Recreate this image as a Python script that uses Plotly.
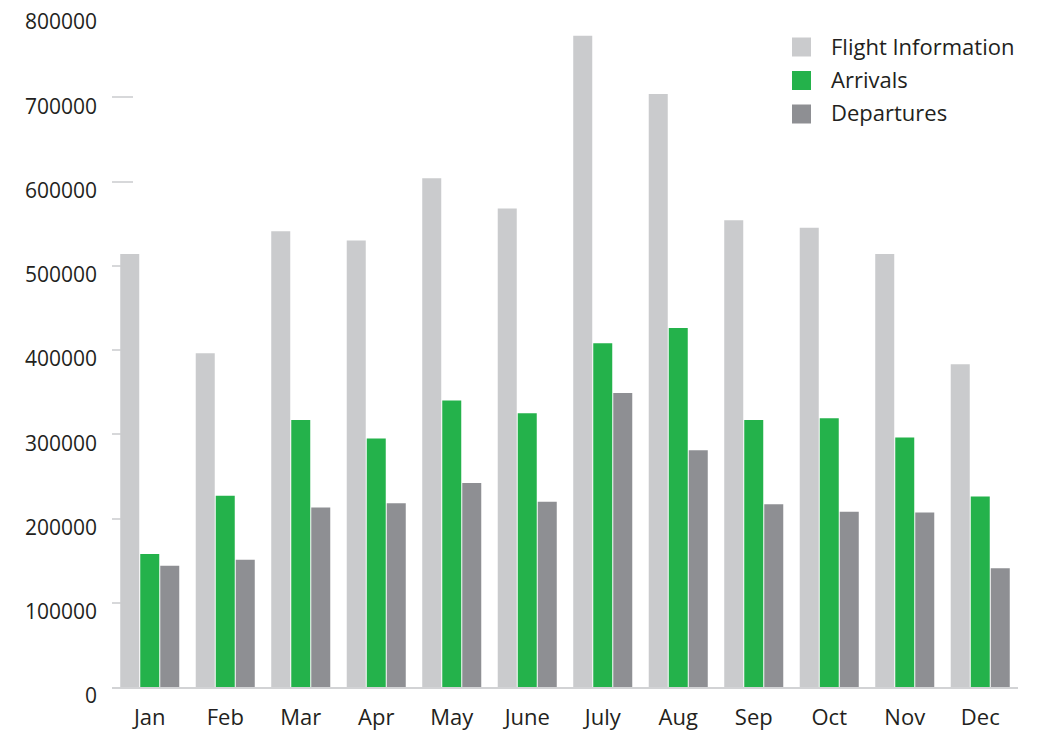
import plotly.graph_objects as go

# Monthly passenger figures
months = ["Jan", "Feb", "Mar", "Apr", "May", "June", "July", "Aug", "Sep", "Oct", "Nov", "Dec"]
flight_information = [514000, 396000, 541000, 530000, 604000, 568000, 773000, 704000, 554000, 545000, 514000, 383000]
arrivals = [158000, 227000, 317000, 295000, 340000, 325000, 408000, 426000, 317000, 319000, 296000, 226000]
departures = [144000, 151000, 213000, 218000, 242000, 220000, 349000, 281000, 217000, 208000, 207000, 141000]

y_ticks = [0, 100000, 200000, 300000, 400000, 500000, 600000, 700000, 800000]

series = [
    ("Flight Information", flight_information, "#cacbcd"),
    ("Arrivals", arrivals, "#24b24b"),
    ("Departures", departures, "#8e8f93"),
]

TEXT = "#231f20"
FONT = "Open Sans"

fig = go.Figure()
for name, values, color in series:
    fig.add_trace(go.Bar(
        x=months, y=values, name=name,
        marker=dict(color=color, line=dict(width=0)),
        showlegend=False,
    ))

# Legend block: colour swatch + label per series
for i, (name, _, color) in enumerate(series):
    yc = 46.5 + i * 33.5
    fig.add_shape(type="rect", xref="paper", yref="paper",
                  x0=(792 - 112) / 906, x1=(811 - 112) / 906,
                  y0=(686.5 - (yc + 9.5)) / 674, y1=(686.5 - (yc - 9.5)) / 674,
                  fillcolor=color, line=dict(width=0))
    fig.add_annotation(text=name, xref="paper", yref="paper",
                       x=(829 - 112) / 906, y=(686.5 - (yc - 1.5)) / 674,
                       xanchor="left", yanchor="middle", showarrow=False,
                       font=dict(family=FONT, size=22, color=TEXT))

fig.update_layout(
    width=1040, height=730,
    margin=dict(l=112, r=22, t=13, b=43, autoexpand=False),
    paper_bgcolor="white", plot_bgcolor="white",
    barmode="group", bargap=0.205, bargroupgap=0.05,
    font=dict(family=FONT, size=20, color=TEXT),
)
fig.update_xaxes(
    automargin=False,
    showgrid=False, zeroline=False,
    showline=True, linecolor="#d2d3d5", linewidth=2,
    ticks="", ticklabelstandoff=10,
    tickfont=dict(family=FONT, size=22, color=TEXT),
)
fig.update_yaxes(
    automargin=False,
    range=[0, 800000], tickvals=y_ticks, ticktext=[str(v) for v in y_ticks],
    showgrid=False, zeroline=False, showline=False,
    ticks="inside", ticklen=21, tickwidth=2, tickcolor="#d7d8da",
    layer="below traces", ticklabelstandoff=14, ticklabelshift=9,
    tickfont=dict(family=FONT, size=21, color=TEXT),
)

fig.write_html("out.html")
